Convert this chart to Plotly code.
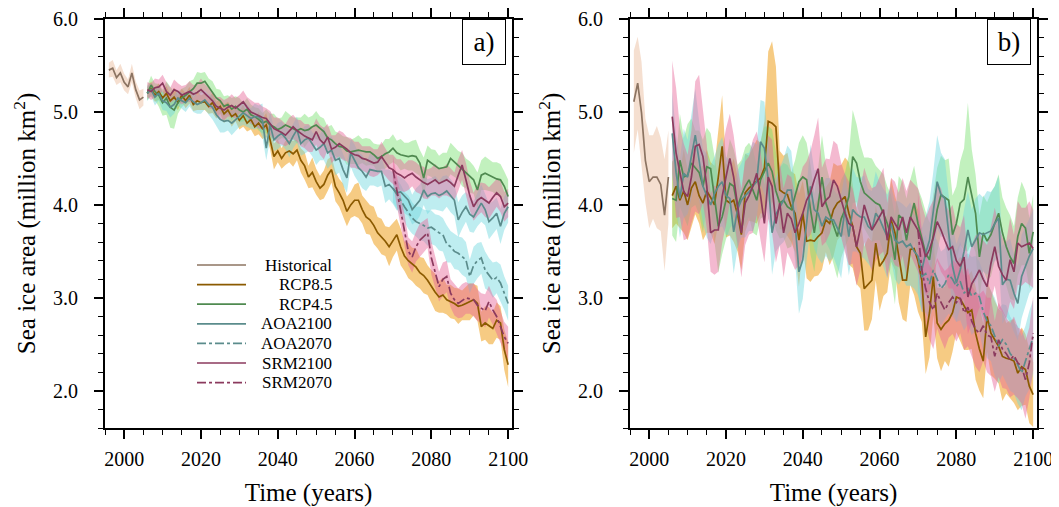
import numpy as np
import plotly.graph_objects as go

# ---------------- data ----------------
YEARS_HIST = list(range(1996, 2006))
YEARS = list(range(2006, 2101))
YEARS_LATE = list(range(2070, 2101))

# ----- panel a -----
A_HIST = [5.45, 5.47, 5.37, 5.42, 5.32, 5.27, 5.42, 5.24, 5.13, 5.16]
A_HIST_HW = [0.08, 0.09, 0.08, 0.10, 0.09, 0.08, 0.10, 0.09, 0.10, 0.09]

A_RCP85 = [5.20, 5.25, 5.18, 5.22, 5.15, 5.20, 5.12, 5.16, 5.10, 5.18,
           5.12, 5.18, 5.08, 5.12, 5.10, 5.11, 5.06, 5.10, 5.02, 5.06,
           4.98, 5.02, 4.95, 4.98, 4.91, 4.96, 4.88, 4.92, 4.84, 4.88,
           4.82, 4.86, 4.70, 4.52, 4.58, 4.50, 4.56, 4.58, 4.55, 4.59,
           4.48, 4.42, 4.30, 4.35, 4.25, 4.18, 4.22, 4.32, 4.38, 4.20,
           4.13, 4.05, 3.93, 4.00, 4.05, 4.05, 3.95, 3.87, 3.84, 3.78,
           3.70, 3.66, 3.61, 3.55, 3.62, 3.68, 3.55, 3.45, 3.40, 3.36,
           3.33, 3.27, 3.24, 3.19, 3.12, 3.06, 3.01, 3.03, 2.98, 2.96,
           2.94, 2.91, 2.92, 2.94, 2.96, 2.98, 2.94, 2.69, 2.73, 2.70,
           2.67, 2.76, 2.73, 2.44, 2.28]
A_RCP85_HW = [0.06, 0.08, 0.07, 0.09, 0.06, 0.08, 0.07, 0.10, 0.08, 0.07,
              0.08, 0.09, 0.07, 0.10, 0.08, 0.09, 0.08, 0.11, 0.09, 0.08,
              0.10, 0.09, 0.11, 0.08, 0.10, 0.12, 0.09, 0.11, 0.10, 0.12,
              0.11, 0.13, 0.10, 0.14, 0.12, 0.11, 0.13, 0.12, 0.14, 0.11,
              0.13, 0.15, 0.12, 0.16, 0.14, 0.13, 0.15, 0.17, 0.14, 0.16,
              0.15, 0.18, 0.16, 0.14, 0.17, 0.19, 0.15, 0.18, 0.16, 0.20,
              0.17, 0.19, 0.16, 0.21, 0.18, 0.17, 0.20, 0.16, 0.19, 0.18,
              0.20, 0.17, 0.19, 0.16, 0.18, 0.20, 0.17, 0.19, 0.16, 0.18,
              0.17, 0.19, 0.16, 0.18, 0.20, 0.17, 0.19, 0.16, 0.18, 0.20,
              0.17, 0.19, 0.18, 0.22, 0.24]

A_RCP45 = [5.20, 5.29, 5.22, 5.18, 5.10, 5.15, 5.05, 5.02, 5.10, 5.15,
           5.18, 5.22, 5.25, 5.31, 5.31, 5.33, 5.27, 5.22, 5.15, 5.12,
           5.06, 5.08, 5.03, 5.06, 5.02, 5.00, 5.03, 4.97, 4.95, 4.92,
           4.88, 4.90, 4.86, 4.84, 4.81, 4.83, 4.86, 4.84, 4.82, 4.80,
           4.82, 4.80, 4.81, 4.84, 4.86, 4.82, 4.79, 4.72, 4.70, 4.66,
           4.63, 4.62, 4.58, 4.57, 4.58, 4.59, 4.58, 4.57, 4.57, 4.54,
           4.50, 4.52, 4.55, 4.57, 4.61, 4.56, 4.54, 4.53, 4.52, 4.53,
           4.52, 4.45, 4.29, 4.48, 4.45, 4.42, 4.39, 4.40, 4.41, 4.50,
           4.46, 4.43, 4.38, 4.34, 4.30, 4.27, 4.16, 4.32, 4.34, 4.32,
           4.30, 4.28, 4.27, 4.20, 4.09]
A_RCP45_HW = [0.08, 0.10, 0.09, 0.12, 0.14, 0.18, 0.22, 0.20, 0.12, 0.10,
              0.09, 0.11, 0.10, 0.12, 0.11, 0.10, 0.09, 0.11, 0.10, 0.12,
              0.11, 0.10, 0.12, 0.11, 0.13, 0.10, 0.12, 0.11, 0.10, 0.12,
              0.11, 0.13, 0.12, 0.14, 0.12, 0.11, 0.15, 0.13, 0.12, 0.14,
              0.12, 0.18, 0.13, 0.12, 0.15, 0.13, 0.14, 0.12, 0.16, 0.13,
              0.14, 0.12, 0.15, 0.13, 0.14, 0.16, 0.13, 0.15, 0.14, 0.12,
              0.15, 0.13, 0.16, 0.14, 0.15, 0.13, 0.17, 0.14, 0.15, 0.16,
              0.18, 0.14, 0.22, 0.16, 0.15, 0.17, 0.14, 0.16, 0.15, 0.17,
              0.16, 0.15, 0.18, 0.16, 0.17, 0.15, 0.19, 0.16, 0.18, 0.17,
              0.16, 0.18, 0.17, 0.16, 0.18]

A_AOA2100 = [5.20, 5.24, 5.16, 5.20, 5.12, 5.10, 5.05, 5.08, 5.15, 5.12,
             5.10, 5.15, 5.11, 5.08, 5.10, 5.13, 5.08, 5.05, 4.97, 4.92,
             4.90, 4.91, 4.88, 4.92, 4.95, 4.99, 4.96, 4.93, 4.95, 4.95,
             4.91, 4.61, 4.86, 4.70, 4.74, 4.77, 4.72, 4.66, 4.74, 4.81,
             4.66, 4.70, 4.72, 4.65, 4.59, 4.62, 4.66, 4.56, 4.59, 4.48,
             4.50, 4.38, 4.29, 4.56, 4.48, 4.40, 4.36, 4.30, 4.38, 4.37,
             4.36, 4.36, 4.20, 4.22, 4.18, 4.13, 4.14, 4.09, 4.05, 3.95,
             4.00, 4.05, 4.16, 4.09, 4.12, 4.13, 4.10, 4.12, 4.15, 4.10,
             4.05, 3.84, 3.92, 3.98, 3.90, 3.87, 3.95, 4.02, 3.95, 3.82,
             3.86, 3.91, 3.77, 3.91, 3.98]
A_AOA2100_HW = [0.08, 0.07, 0.09, 0.08, 0.10, 0.09, 0.11, 0.10, 0.08, 0.09,
                0.10, 0.09, 0.11, 0.10, 0.12, 0.10, 0.11, 0.13, 0.12, 0.14,
                0.12, 0.11, 0.13, 0.12, 0.11, 0.13, 0.12, 0.11, 0.14, 0.12,
                0.18, 0.13, 0.15, 0.12, 0.14, 0.13, 0.12, 0.15, 0.13, 0.14,
                0.13, 0.15, 0.14, 0.13, 0.16, 0.14, 0.18, 0.17, 0.15, 0.16,
                0.15, 0.17, 0.16, 0.15, 0.17, 0.16, 0.18, 0.15, 0.17, 0.16,
                0.17, 0.15, 0.18, 0.16, 0.17, 0.19, 0.16, 0.18, 0.17, 0.16,
                0.18, 0.17, 0.16, 0.19, 0.17, 0.18, 0.16, 0.19, 0.17, 0.18,
                0.17, 0.19, 0.18, 0.16, 0.19, 0.17, 0.18, 0.20, 0.17, 0.19,
                0.18, 0.17, 0.19, 0.18, 0.17]

A_AOA2070 = [4.18, 4.12, 4.05, 3.98, 3.92, 3.86, 3.82, 3.80, 3.78, 3.75,
             3.76, 3.73, 3.70, 3.68, 3.58, 3.55, 3.50, 3.48, 3.45, 3.41,
             3.23, 3.35, 3.40, 3.43, 3.30, 3.25, 3.19, 3.22, 3.16, 3.05,
             2.94]
A_AOA2070_HW = [0.15, 0.16, 0.17, 0.16, 0.18, 0.17, 0.16, 0.18, 0.17, 0.19,
                0.18, 0.17, 0.19, 0.18, 0.20, 0.17, 0.19, 0.18, 0.20, 0.19,
                0.18, 0.20, 0.19, 0.17, 0.20, 0.18, 0.19, 0.17, 0.20, 0.18,
                0.19]

A_SRM2100 = [5.24, 5.22, 5.26, 5.27, 5.31, 5.22, 5.18, 5.24, 5.22, 5.18,
             5.20, 5.22, 5.19, 5.21, 5.24, 5.20, 5.15, 5.12, 5.06, 5.04,
             5.02, 5.05, 5.07, 5.04, 5.08, 5.11, 5.05, 5.00, 4.98, 4.96,
             4.94, 4.93, 4.88, 4.82, 4.80, 4.78, 4.75, 4.80, 4.84, 4.80,
             4.77, 4.74, 4.72, 4.70, 4.79, 4.70, 4.66, 4.73, 4.60, 4.62,
             4.66, 4.63, 4.60, 4.56, 4.54, 4.53, 4.50, 4.49, 4.47, 4.45,
             4.46, 4.52, 4.46, 4.40, 4.38, 4.34, 4.32, 4.29, 4.32, 4.34,
             4.30, 4.27, 4.24, 4.22, 4.25, 4.27, 4.23, 4.25, 4.27, 4.24,
             4.20, 4.32, 4.43, 4.27, 4.10, 3.98, 4.05, 4.08, 4.05, 4.02,
             4.08, 4.13, 4.09, 3.98, 4.02]
A_SRM2100_HW = [0.08, 0.09, 0.10, 0.08, 0.09, 0.10, 0.08, 0.11, 0.09, 0.10,
                0.09, 0.11, 0.10, 0.09, 0.12, 0.10, 0.11, 0.09, 0.10, 0.12,
                0.11, 0.10, 0.12, 0.11, 0.10, 0.12, 0.11, 0.13, 0.12, 0.14,
                0.12, 0.11, 0.13, 0.12, 0.14, 0.13, 0.12, 0.14, 0.13, 0.12,
                0.14, 0.13, 0.15, 0.13, 0.14, 0.16, 0.17, 0.14, 0.15, 0.13,
                0.14, 0.15, 0.13, 0.16, 0.14, 0.15, 0.13, 0.14, 0.16, 0.15,
                0.14, 0.16, 0.15, 0.14, 0.16, 0.15, 0.17, 0.15, 0.16, 0.14,
                0.16, 0.15, 0.17, 0.16, 0.15, 0.17, 0.16, 0.15, 0.17, 0.16,
                0.15, 0.17, 0.16, 0.18, 0.16, 0.15, 0.17, 0.16, 0.18, 0.17,
                0.16, 0.15, 0.17, 0.16, 0.15]

A_SRM2070 = [4.38, 4.15, 3.95, 3.73, 3.50, 3.44, 3.55, 3.62, 3.66, 3.70,
             3.43, 3.28, 3.12, 3.20, 3.23, 3.05, 2.98, 2.94, 2.97, 3.00,
             2.99, 2.98, 2.92, 2.89, 2.86, 2.96, 2.87, 2.80, 2.69, 2.58,
             2.51]
A_SRM2070_HW = [0.14, 0.16, 0.18, 0.17, 0.15, 0.17, 0.16, 0.18, 0.17, 0.16,
                0.18, 0.17, 0.16, 0.18, 0.17, 0.15, 0.17, 0.16, 0.18, 0.17,
                0.16, 0.18, 0.17, 0.16, 0.18, 0.17, 0.16, 0.18, 0.17, 0.16,
                0.18]

# ----- panel b -----
B_HIST = [5.11, 5.31, 4.99, 4.48, 4.25, 4.30, 4.30, 4.22, 3.89, 4.30]
B_HIST_HW = [0.55, 0.50, 0.55, 0.45, 0.50, 0.45, 0.55, 0.50, 0.60, 0.50]

B_RCP85 = [4.10, 4.20, 4.05, 4.15, 4.00, 4.18, 4.25, 4.10, 4.02, 4.15,
           4.08, 4.00, 4.30, 4.63, 4.05, 4.02, 4.05, 3.90, 3.68, 4.13,
           4.18, 4.22, 4.25, 4.29, 4.40, 4.90, 4.88, 4.84, 4.16, 4.13,
           4.11, 3.98, 3.91, 3.62, 3.91, 3.61, 3.62, 3.61, 3.66, 3.70,
           3.84, 3.80, 3.95, 4.02, 4.05, 4.09, 3.91, 3.77, 3.55, 3.48,
           3.10, 3.15, 3.19, 3.59, 3.34, 3.40, 3.48, 3.84, 3.70, 3.45,
           3.19, 3.19, 3.52, 3.53, 3.40, 3.19, 2.58, 2.84, 3.23, 2.73,
           2.66, 2.72, 2.76, 2.84, 3.01, 2.99, 2.92, 2.84, 2.87, 2.62,
           2.45, 2.32, 2.80, 2.62, 2.55, 2.48, 2.37, 2.35, 2.34, 2.32,
           2.19, 2.26, 2.23, 2.05, 1.96]
B_RCP85_HW = [0.35, 0.40, 0.30, 0.45, 0.38, 0.42, 0.35, 0.30, 0.40, 0.45,
              0.38, 0.42, 0.50, 0.55, 0.40, 0.35, 0.45, 0.40, 0.38, 0.42,
              0.35, 0.40, 0.45, 0.38, 0.50, 0.75, 0.88, 0.65, 0.42, 0.40,
              0.45, 0.38, 0.42, 0.50, 0.35, 0.40, 0.45, 0.38, 0.42, 0.40,
              0.35, 0.45, 0.50, 0.40, 0.38, 0.42, 0.55, 0.45, 0.40, 0.38,
              0.45, 0.50, 0.42, 0.40, 0.48, 0.38, 0.42, 0.45, 0.40, 0.50,
              0.42, 0.45, 0.38, 0.50, 0.55, 0.45, 0.40, 0.48, 0.42, 0.38,
              0.45, 0.40, 0.50, 0.42, 0.38, 0.45, 0.48, 0.40, 0.42, 0.50,
              0.45, 0.40, 0.38, 0.45, 0.42, 0.40, 0.48, 0.38, 0.42, 0.45,
              0.40, 0.42, 0.38, 0.40, 0.35]

B_RCP45 = [4.07, 4.05, 4.48, 4.30, 4.32, 4.45, 4.40, 4.35, 4.20, 4.41,
           4.39, 4.05, 3.77, 3.87, 4.05, 4.23, 4.20, 3.98, 4.10, 4.20,
           4.27, 4.15, 4.05, 4.27, 4.36, 4.45, 4.36, 4.15, 4.02, 4.05,
           3.98, 3.95, 4.10, 4.25, 4.30, 4.27, 3.95, 3.70, 4.00, 4.30,
           4.02, 3.90, 3.77, 3.66, 3.85, 3.95, 4.09, 4.52, 4.45, 4.25,
           4.13, 4.09, 4.05, 4.02, 4.00, 3.91, 3.80, 3.66, 3.41, 3.89,
           3.85, 3.62, 3.85, 4.02, 3.80, 3.65, 3.48, 3.41, 3.70, 3.95,
           4.11, 4.08, 4.05, 3.68, 3.80, 4.02, 4.06, 4.30, 4.10, 3.91,
           3.44, 3.70, 3.61, 3.68, 3.80, 3.91, 3.70, 3.55, 3.44, 3.37,
           3.66, 3.80, 3.75, 3.48, 3.71]
B_RCP45_HW = [0.40, 0.45, 0.50, 0.42, 0.55, 0.48, 0.40, 0.45, 0.50, 0.42,
              0.38, 0.45, 0.50, 0.40, 0.42, 0.48, 0.40, 0.45, 0.38, 0.42,
              0.40, 0.45, 0.38, 0.42, 0.48, 0.40, 0.45, 0.42, 0.38, 0.40,
              0.45, 0.40, 0.38, 0.42, 0.45, 0.40, 0.48, 0.42, 0.40, 0.45,
              0.42, 0.38, 0.40, 0.45, 0.42, 0.40, 0.45, 0.50, 0.42, 0.40,
              0.38, 0.42, 0.45, 0.40, 0.38, 0.42, 0.40, 0.45, 0.48, 0.42,
              0.40, 0.45, 0.42, 0.40, 0.38, 0.42, 0.45, 0.40, 0.42, 0.45,
              0.42, 0.40, 0.45, 0.42, 0.40, 0.45, 0.55, 0.80, 0.50, 0.42,
              0.45, 0.40, 0.42, 0.45, 0.40, 0.42, 0.38, 0.42, 0.45, 0.40,
              0.42, 0.45, 0.40, 0.38, 0.40]

B_AOA2100 = [4.77, 4.35, 4.07, 4.34, 4.30, 4.52, 4.75, 4.48, 4.20, 4.10,
             4.00, 4.12, 4.20, 4.25, 4.10, 4.07, 3.71, 3.95, 4.05, 4.10,
             4.14, 4.20, 4.25, 4.68, 4.61, 4.27, 3.70, 3.90, 3.98, 4.05,
             4.16, 4.16, 3.80, 3.28, 3.41, 3.80, 4.20, 3.95, 3.91, 3.77,
             3.87, 3.84, 3.84, 3.75, 3.66, 3.95, 3.66, 3.95, 3.90, 3.87,
             3.87, 3.77, 3.73, 3.91, 3.85, 3.75, 3.66, 3.80, 3.62, 3.59,
             3.61, 3.55, 3.58, 3.50, 3.45, 3.30, 3.48, 3.62, 3.91, 4.25,
             4.11, 4.07, 3.70, 3.34, 3.16, 3.30, 3.50, 3.73, 3.55, 3.62,
             3.70, 3.68, 3.70, 3.72, 3.80, 3.86, 3.14, 3.20, 3.19, 3.05,
             2.94, 3.23, 3.34, 3.45, 3.53]
B_AOA2100_HW = [0.45, 0.40, 0.42, 0.48, 0.40, 0.45, 0.50, 0.42, 0.40, 0.45,
                0.42, 0.40, 0.45, 0.48, 0.42, 0.40, 0.45, 0.42, 0.40, 0.45,
                0.42, 0.48, 0.40, 0.45, 0.50, 0.42, 0.45, 0.40, 0.42, 0.45,
                0.48, 0.42, 0.40, 0.45, 0.42, 0.40, 0.45, 0.42, 0.48, 0.40,
                0.42, 0.45, 0.40, 0.42, 0.45, 0.40, 0.42, 0.45, 0.40, 0.42,
                0.45, 0.40, 0.42, 0.45, 0.40, 0.42, 0.45, 0.40, 0.42, 0.45,
                0.40, 0.42, 0.45, 0.40, 0.42, 0.45, 0.40, 0.42, 0.45, 0.50,
                0.45, 0.42, 0.40, 0.45, 0.42, 0.40, 0.45, 0.42, 0.40, 0.45,
                0.42, 0.40, 0.45, 0.42, 0.40, 0.45, 0.42, 0.40, 0.45, 0.42,
                0.40, 0.45, 0.42, 0.40, 0.42]

B_AOA2070 = [3.45, 3.23, 3.26, 3.15, 3.30, 3.20, 3.10, 3.15, 3.25, 3.20,
             3.12, 3.18, 3.05, 3.10, 3.02, 3.05, 3.01, 2.85, 2.75, 2.70,
             2.58, 2.48, 2.55, 2.50, 2.40, 2.35, 2.28, 2.19, 2.32, 2.44,
             2.58]
B_AOA2070_HW = [0.40, 0.38, 0.42, 0.40, 0.38, 0.42, 0.40, 0.38, 0.42, 0.40,
                0.38, 0.42, 0.40, 0.38, 0.42, 0.40, 0.38, 0.42, 0.40, 0.38,
                0.42, 0.40, 0.38, 0.42, 0.40, 0.38, 0.42, 0.40, 0.38, 0.42,
                0.40]

B_SRM2100 = [4.95, 4.56, 4.35, 4.14, 4.09, 4.30, 4.63, 4.65, 4.52, 4.20,
             3.70, 3.73, 3.73, 4.09, 4.30, 4.50, 4.30, 4.00, 3.70, 4.02,
             4.10, 4.20, 4.34, 4.10, 3.80, 4.30, 4.20, 3.80, 4.02, 3.70,
             3.91, 3.85, 3.70, 3.80, 3.91, 4.05, 4.13, 4.27, 4.39, 3.98,
             4.05, 4.09, 4.27, 4.20, 4.05, 3.91, 3.80, 3.77, 3.55, 3.75,
             4.00, 3.85, 3.73, 3.80, 3.88, 3.95, 3.62, 3.87, 3.80, 3.73,
             3.87, 3.70, 3.87, 3.80, 3.73, 3.60, 3.44, 3.52, 3.65, 3.82,
             3.73, 3.62, 3.52, 3.55, 3.40, 3.34, 3.44, 3.01, 3.15, 3.22,
             3.30, 3.20, 3.12, 3.37, 3.55, 3.34, 3.25, 3.19, 3.41, 3.28,
             3.59, 3.55, 3.57, 3.59, 3.53]
B_SRM2100_HW = [0.60, 0.70, 0.48, 0.52, 0.45, 0.50, 0.70, 0.75, 0.50, 0.45,
                0.42, 0.48, 0.45, 0.50, 0.52, 0.48, 0.45, 0.42, 0.48, 0.45,
                0.42, 0.50, 0.45, 0.48, 0.42, 0.45, 0.50, 0.42, 0.45, 0.48,
                0.42, 0.45, 0.40, 0.45, 0.50, 0.42, 0.45, 0.48, 0.55, 0.42,
                0.45, 0.40, 0.42, 0.45, 0.40, 0.42, 0.45, 0.40, 0.42, 0.45,
                0.40, 0.42, 0.45, 0.40, 0.42, 0.45, 0.40, 0.42, 0.45, 0.40,
                0.42, 0.45, 0.40, 0.42, 0.45, 0.40, 0.42, 0.45, 0.40, 0.42,
                0.45, 0.40, 0.42, 0.45, 0.40, 0.42, 0.45, 0.40, 0.42, 0.45,
                0.40, 0.42, 0.45, 0.40, 0.42, 0.45, 0.40, 0.42, 0.45, 0.40,
                0.45, 0.42, 0.40, 0.45, 0.42]

B_SRM2070 = [3.73, 3.30, 3.10, 2.95, 2.87, 3.05, 2.95, 2.87, 2.95, 3.01,
             2.95, 3.00, 2.84, 2.90, 2.75, 2.66, 2.62, 2.70, 2.60, 2.58,
             2.37, 2.55, 2.45, 2.40, 2.33, 2.38, 2.30, 2.26, 2.12, 2.30,
             2.62]
B_SRM2070_HW = [0.40, 0.42, 0.38, 0.40, 0.42, 0.38, 0.40, 0.42, 0.38, 0.40,
                0.42, 0.38, 0.40, 0.42, 0.38, 0.40, 0.42, 0.38, 0.40, 0.42,
                0.38, 0.40, 0.42, 0.38, 0.40, 0.42, 0.38, 0.40, 0.42, 0.38,
                0.40]

LEGEND_NAMES = ["Historical", "RCP8.5", "RCP4.5", "AOA2100", "AOA2070",
                "SRM2100", "SRM2070"]
X_TICKS = [2000, 2020, 2040, 2060, 2080, 2100]
Y_TICKS = [2.0, 3.0, 4.0, 5.0, 6.0]

# ---------------- styles ----------------
LINE = {"hist": "#8c7462", "rcp85": "#8b5a00", "rcp45": "#4f8a50",
        "aoa": "#5b8c8c", "srm": "#8b3a5e"}
BAND = {"hist": "rgba(228,172,132,0.38)", "rcp85": "rgba(238,160,30,0.55)",
        "rcp45": "rgba(120,225,110,0.45)", "aoa": "rgba(110,215,222,0.45)",
        "srm": "rgba(230,100,150,0.45)"}
FONT = "Liberation Serif"
W, H = 1059, 507
OFF = 8  # page body margin in the browser


def fx(p):
    return (p - OFF) / W


def fy(p):
    return 1 - (p - OFF) / H


fig = go.Figure()


def add_band(x, y, hw, color, xa, ya):
    y = np.array(y)
    hw = np.array(hw)
    up = y + hw
    lo = y - hw
    fig.add_trace(go.Scatter(x=list(x) + list(x)[::-1],
                             y=list(up) + list(lo)[::-1],
                             fill="toself", fillcolor=color,
                             line=dict(width=0), mode="lines",
                             hoverinfo="skip", showlegend=False,
                             xaxis=xa, yaxis=ya))


def add_line(x, y, color, dash, xa, ya):
    fig.add_trace(go.Scatter(x=x, y=y, mode="lines",
                             line=dict(color=color, width=1.7, dash=dash),
                             hoverinfo="skip", showlegend=False,
                             xaxis=xa, yaxis=ya))


panels = [
    ("x", "y", A_HIST, A_HIST_HW,
     [("rcp85", YEARS, A_RCP85, A_RCP85_HW, "solid"),
      ("rcp45", YEARS, A_RCP45, A_RCP45_HW, "solid"),
      ("aoa", YEARS, A_AOA2100, A_AOA2100_HW, "solid"),
      ("aoa", YEARS_LATE, A_AOA2070, A_AOA2070_HW, "dashdot"),
      ("srm", YEARS, A_SRM2100, A_SRM2100_HW, "solid"),
      ("srm", YEARS_LATE, A_SRM2070, A_SRM2070_HW, "dashdot")]),
    ("x2", "y2", B_HIST, B_HIST_HW,
     [("rcp85", YEARS, B_RCP85, B_RCP85_HW, "solid"),
      ("rcp45", YEARS, B_RCP45, B_RCP45_HW, "solid"),
      ("aoa", YEARS, B_AOA2100, B_AOA2100_HW, "solid"),
      ("aoa", YEARS_LATE, B_AOA2070, B_AOA2070_HW, "dashdot"),
      ("srm", YEARS, B_SRM2100, B_SRM2100_HW, "solid"),
      ("srm", YEARS_LATE, B_SRM2070, B_SRM2070_HW, "dashdot")]),
]

for xa, ya, hist, hist_hw, series in panels:
    add_band(YEARS_HIST, hist, hist_hw, BAND["hist"], xa, ya)
    for key, xs, ys, hw, dash in series:
        add_band(xs, ys, hw, BAND[key], xa, ya)
    add_line(YEARS_HIST, hist, LINE["hist"], "solid", xa, ya)
    for key, xs, ys, hw, dash in series:
        add_line(xs, ys, LINE[key], dash, xa, ya)

# ---------------- axes ----------------
y_dom = [fy(428), fy(19)]
xa_common = dict(range=[1995, 2101], tickvals=X_TICKS, ticks="outside",
                 ticklen=9, tickwidth=1.5, tickcolor="black",
                 showline=True, linewidth=1.8, linecolor="black",
                 mirror="allticks", showgrid=False, zeroline=False,
                 automargin=False,
                 minor=dict(dtick=5, tick0=1995, ticks="outside", ticklen=5,
                            tickwidth=1.2, tickcolor="black", showgrid=False),
                 tickfont=dict(family=FONT, size=20, color="black"),
                 ticklabelstandoff=3,
                 title=dict(text="Time (years)",
                            font=dict(family=FONT, size=25, color="black"),
                            standoff=15))
ya_common = dict(range=[1.6, 6.0001], tickvals=Y_TICKS, tickformat=".1f",
                 ticks="outside", ticklen=9, tickwidth=1.5, tickcolor="black",
                 showline=True, linewidth=1.8, linecolor="black",
                 mirror="allticks", showgrid=False, zeroline=False,
                 automargin=False,
                 minor=dict(dtick=0.2, tick0=1.6, ticks="outside", ticklen=5,
                            tickwidth=1.2, tickcolor="black", showgrid=False),
                 tickfont=dict(family=FONT, size=20, color="black"),
                 ticklabelstandoff=12,
                 title=dict(text="Sea ice area (million km<sup>2</sup>)",
                            font=dict(family=FONT, size=25, color="black"),
                            standoff=10))

fig.update_layout(
    width=W, height=H, margin=dict(l=0, r=0, t=0, b=0, autoexpand=False),
    plot_bgcolor="white", paper_bgcolor="white",
    font=dict(family=FONT, color="black"),
    xaxis=dict(domain=[fx(105), fx(512)], anchor="y", **xa_common),
    yaxis=dict(domain=y_dom, anchor="x", **ya_common),
    xaxis2=dict(domain=[fx(630), fx(1037)], anchor="y2", **xa_common),
    yaxis2=dict(domain=y_dom, anchor="x2", **ya_common),
)

# panel labels
for label, xr in [("a)", 506), ("b)", 1031)]:
    fig.add_annotation(xref="paper", yref="paper", x=fx(xr), y=fy(19),
                       xanchor="right", yanchor="top", text=label,
                       showarrow=False, width=38, height=40,
                       bordercolor="black", borderwidth=1, borderpad=2,
                       bgcolor="white",
                       font=dict(family=FONT, size=27, color="black"))

# manual legend in panel a
leg_styles = [(LINE["hist"], "solid"), (LINE["rcp85"], "solid"),
              (LINE["rcp45"], "solid"), (LINE["aoa"], "solid"),
              (LINE["aoa"], "dashdot"), (LINE["srm"], "solid"),
              (LINE["srm"], "dashdot")]
for i, (name, (col, dash)) in enumerate(zip(LEGEND_NAMES, leg_styles)):
    yy = 265 + i * 19.6
    fig.add_shape(type="line", xref="paper", yref="paper",
                  x0=fx(197), x1=fx(246), y0=fy(yy), y1=fy(yy),
                  line=dict(color=col, width=1.7, dash=dash))
    fig.add_annotation(xref="paper", yref="paper", x=fx(333), y=fy(yy),
                       xanchor="right", yanchor="middle", text=name,
                       showarrow=False, borderpad=0,
                       font=dict(family=FONT, size=17, color="black"))

fig.write_html("out.html")
